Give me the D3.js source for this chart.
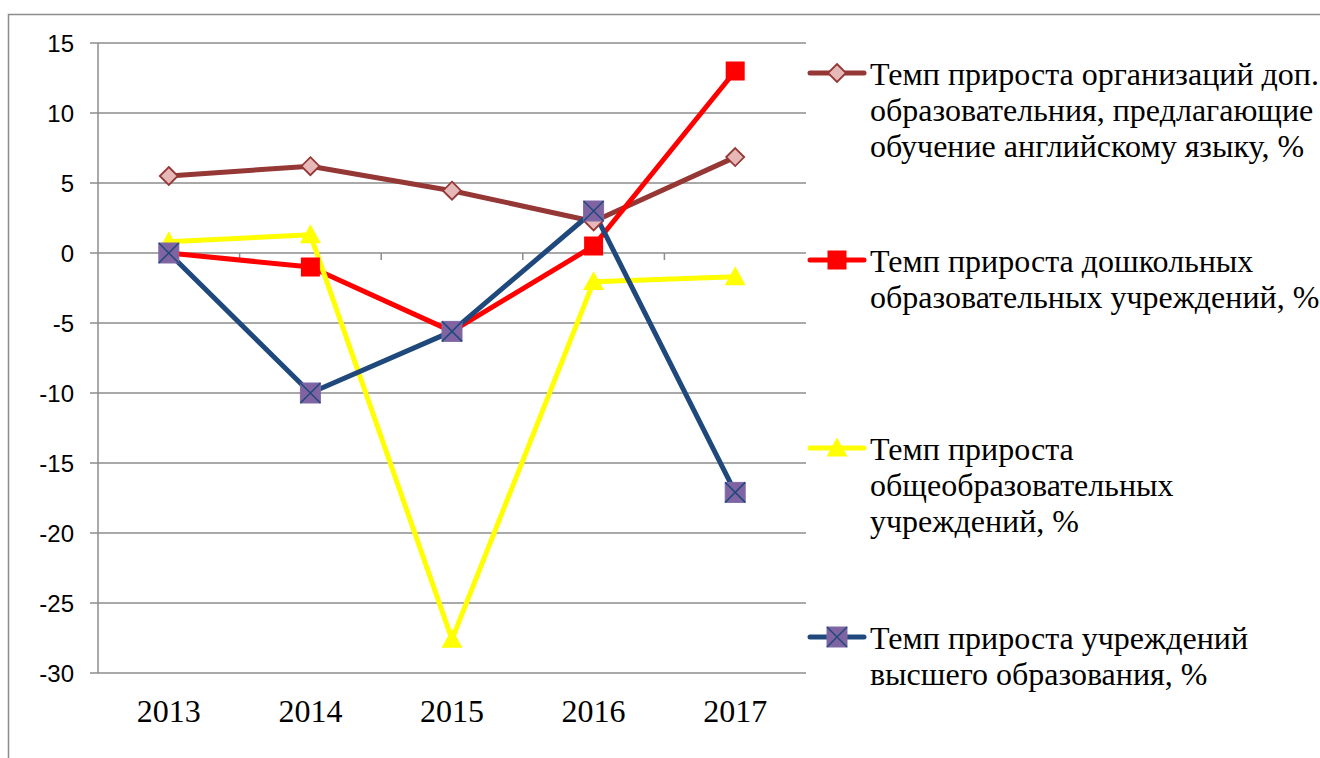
<!DOCTYPE html>
<html><head><meta charset="utf-8">
<script src="https://cdn.jsdelivr.net/npm/d3@7"></script>
<style>body{margin:0;background:#fff;}svg{display:block;}
.serif{font-family:"Liberation Serif","Times New Roman","DejaVu Serif",serif;}
.sans{font-family:"Liberation Sans",Arial,sans-serif;}
</style>
</head><body>
<svg id="c" width="1320" height="758"></svg>
<script>
const years = ["2013","2014","2015","2016","2017"];
const yTicks = [15,10,5,0,-5,-10,-15,-20,-25,-30];
const orgDop = [5.5, 6.2, 4.45, 2.25, 6.85];
const preschool = [0, -1, -5.6, 0.5, 13];
const general = [0.8, 1.3, -27.6, -2.05, -1.7];
const higher = [0, -10, -5.6, 3.0, -17.1];
const seriesNames = [
  ["Темп прироста организаций доп.","образовательния, предлагающие","обучение английскому языку, %"],
  ["Темп прироста дошкольных","образовательных учреждений, %"],
  ["Темп прироста","общеобразовательных","учреждений, %"],
  ["Темп прироста учреждений","высшего образования, %"]
];

const series = [
  {vals: orgDop, color:"#953735", marker:"diamond"},
  {vals: preschool, color:"#ff0000", marker:"square"},
  {vals: general, color:"#ffff00", marker:"triangle"},
  {vals: higher, color:"#1f497d", marker:"xsquare"}
];

const svg = d3.select("#c");
const L = 98, R = 806, T = 43, B = 673;
const x = d3.scaleBand().domain(years).range([L, R]);
const y = d3.scaleLinear().domain([-30, 15]).range([B, T]);
const grid = "#8c8c8c";

svg.append("path").attr("d", "M8.5,758 L8.5,14.5 L1320,14.5").attr("fill","none").attr("stroke","#8c8c8c").attr("stroke-width",1.5);

svg.append("g").selectAll("line").data(yTicks).join("line")
  .attr("x1", 90).attr("x2", R).attr("y1", d=>y(d)).attr("y2", d=>y(d))
  .attr("stroke", grid).attr("stroke-width", 1.5);
svg.append("line").attr("x1",L).attr("x2",L).attr("y1",T).attr("y2",B).attr("stroke",grid).attr("stroke-width",1.5);
const bounds = years.slice(1).map(d => x(d));
svg.append("g").selectAll("line").data(bounds).join("line")
  .attr("x1", d=>d).attr("x2", d=>d).attr("y1", y(0)).attr("y2", y(0)+7)
  .attr("stroke", grid).attr("stroke-width", 1.5);

svg.append("g").selectAll("text").data(yTicks).join("text")
  .attr("class","sans")
  .attr("x", 74).attr("y", d=>y(d)+8.5).attr("text-anchor","end")
  .attr("font-size",24)
  .attr("fill","#000").text(d=>d);

svg.append("g").selectAll("text").data(years).join("text")
  .attr("class","serif")
  .attr("x", d=>x(d)+x.bandwidth()/2).attr("y", 722).attr("text-anchor","middle")
  .attr("font-size",32)
  .attr("fill","#000").text(d=>d);

function drawMarker(g, type, cx, cy, color){
  if(type==="diamond"){
    const s=9;
    g.append("path").attr("d",`M${cx},${cy-s} L${cx+s},${cy} L${cx},${cy+s} L${cx-s},${cy} Z`)
      .attr("fill","#e6b9b8").attr("stroke","#953735").attr("stroke-width",1.8);
  } else if(type==="square"){
    const s=9.5;
    g.append("rect").attr("x",cx-s).attr("y",cy-s).attr("width",2*s).attr("height",2*s).attr("fill","#ff0000");
  } else if(type==="triangle"){
    const s=10.5;
    g.append("path").attr("d",`M${cx},${cy-s} L${cx+s},${cy+s*0.8} L${cx-s},${cy+s*0.8} Z`).attr("fill","#ffff00");
  } else {
    const s=10;
    g.append("rect").attr("x",cx-s).attr("y",cy-s).attr("width",2*s).attr("height",2*s)
      .attr("fill","#8064a2").attr("stroke","#7f6ba8").attr("stroke-width",1);
    g.append("path").attr("d",`M${cx-s},${cy-s} L${cx+s},${cy+s} M${cx+s},${cy-s} L${cx-s},${cy+s}`)
      .attr("stroke","#1f497d").attr("stroke-width",1.5);
  }
}

const line = d3.line().x((d,i)=>x(years[i])+x.bandwidth()/2).y(d=>y(d));
series.forEach(s=>{
  svg.append("path").datum(s.vals).attr("d",line).attr("fill","none")
    .attr("stroke",s.color).attr("stroke-width",5).attr("stroke-linejoin","round");
});
series.forEach(s=>{
  const g = svg.append("g");
  s.vals.forEach((v,i)=>drawMarker(g, s.marker, x(years[i])+x.bandwidth()/2, y(v), s.color));
});

const legY = [73, 260, 448, 637];
series.forEach((s,k)=>{
  const g = svg.append("g");
  g.append("line").attr("x1",810).attr("x2",864).attr("y1",legY[k]).attr("y2",legY[k])
    .attr("stroke",s.color).attr("stroke-width",5).attr("stroke-linecap","round");
  drawMarker(g, s.marker, 837, legY[k], s.color);
  const t = g.append("text").attr("class","serif")
    .attr("font-size",32).attr("fill","#000");
  seriesNames[k].forEach((ln,j)=>{
    t.append("tspan").attr("x",870).attr("y",legY[k]+12+j*36).text(ln);
  });
});
</script>
</body></html>
